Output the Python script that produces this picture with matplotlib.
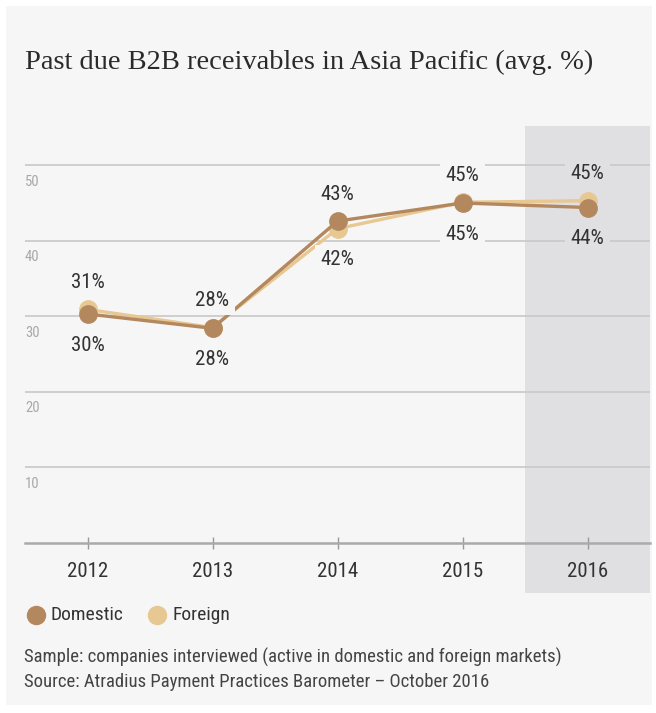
import matplotlib.pyplot as plt
from matplotlib import font_manager
from matplotlib.patches import Rectangle
from matplotlib.lines import Line2D
import numpy as np

years = [2012, 2013, 2014, 2015, 2016]
domestic = [30.3, 28.4, 42.6, 45.0, 44.4]
foreign = [30.9, 28.5, 41.6, 45.1, 45.3]
yticks = [10, 20, 30, 40, 50]

title = "Past due B2B receivables in Asia Pacific (avg. %)"
notes = ["Sample: companies interviewed (active in domestic and foreign markets)",
         "Source: Atradius Payment Practices Barometer \u2013 October 2016"]

c_dom = "#b4885f"
c_for = "#e8c892"
panel = "#f6f6f6"
band = "#e0e0e2"

names = {f.name for f in font_manager.fontManager.ttflist}
sans = next(n for n in ["Roboto Condensed", "Liberation Sans Narrow", "Roboto"] if n in names)
serif = next(n for n in ["Liberation Serif", "DejaVu Serif"] if n in names)
plt.rcParams["font.family"] = sans

W, H = 656, 713
fig = plt.figure(figsize=(W / 100, H / 100), dpi=100, facecolor="white")

def fx(x):
    return x / W

def fy(y):
    return 1 - y / H

# grey card behind everything
fig.patches.append(Rectangle((fx(6), fy(705)), fx(646), (705 - 6) / H,
                             transform=fig.transFigure, fc=panel, ec="none", zorder=-10))

ax = fig.add_axes([fx(25), fy(542.7), fx(625), (542.7 - 127.5) / H])
ax.set_facecolor("none")
ax.set_xlim(2011.5, 2016.5)
ax.set_ylim(0, 55)

# highlight for the current year
ax.add_patch(Rectangle((2015.5, -6.6), 1.0, 61.8, fc=band, ec="none",
                       clip_on=False, zorder=0))

for v in yticks:
    ax.axhline(v, color="#c8c8c8", lw=1.2, zorder=1)
    ax.annotate(str(v), xy=(0, v), xycoords=("axes fraction", "data"),
                xytext=(0, -7), textcoords="offset points",
                ha="left", va="top", fontsize=10.5, color="#a8a8a8")

for s in ["top", "left", "right"]:
    ax.spines[s].set_visible(False)
ax.spines["bottom"].set_color("#aaaaaa")
ax.spines["bottom"].set_linewidth(1.8)
ax.set_yticks([])
ax.set_xticks(years)
ax.set_xticklabels([str(y) for y in years])
ax.tick_params(axis="x", direction="inout", length=8, width=1, color="#999999",
               pad=10, labelsize=15, labelcolor="#333333")

ax.plot(years, foreign, color=c_for, lw=2.4, marker="o", ms=12.5, zorder=3)
ax.plot(years, domestic, color=c_dom, lw=2.4, marker="o", ms=12.5, zorder=4)

# value labels: higher value above, lower value below
for x, d, f in zip(years, domestic, foreign):
    bg = band if x == 2016 else panel
    hi, lo = (d, f) if d > f else (f, d)
    kw = dict(ha="center", va="center", fontsize=15, color="#333333", zorder=5,
              textcoords="offset points",
              bbox=dict(boxstyle="square,pad=0.25", fc=bg, ec="none"))
    ax.annotate(f"{hi:.0f}%", xy=(x, hi), xytext=(0, 19.5), **kw)
    ax.annotate(f"{lo:.0f}%", xy=(x, lo), xytext=(0, -22.5), **kw)

fig.text(fx(25), fy(62), title, fontsize=20.5, family=serif, color="#2a2a2a",
         ha="left", va="center")

# legend
for x, c, lab in [(36, c_dom, "Domestic"), (157, c_for, "Foreign")]:
    fig.lines.append(Line2D([fx(x)], [fy(615)], transform=fig.transFigure,
                            marker="o", ms=13, color=c, ls="none"))
    fig.text(fx(x + 15), fy(615), lab, fontsize=14, color="#333333",
             ha="left", va="center")

fig.text(fx(24), fy(657), notes[0], fontsize=13.5, color="#444444", ha="left", va="center")
fig.text(fx(24), fy(682), notes[1], fontsize=13.5, color="#444444", ha="left", va="center")

fig.savefig("out.png", dpi=100, facecolor="white")
